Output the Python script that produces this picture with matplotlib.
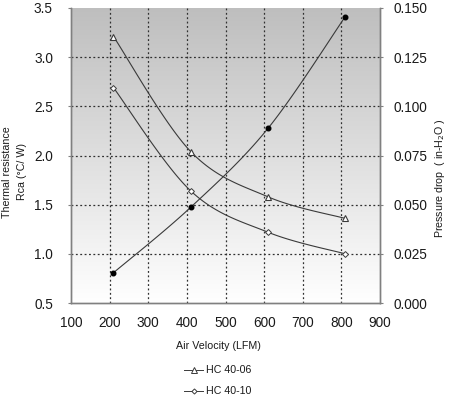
import matplotlib as mpl

mpl.use("Agg")

import matplotlib.pyplot as plt
import numpy as np

# data
AIR_VELOCITY = [210, 410, 610, 810]
HC_40_06 = [3.21, 2.04, 1.58, 1.36]
HC_40_10 = [2.69, 1.64, 1.22, 1.00]
PRESSURE_DROP = [0.0154, 0.0487, 0.0888, 0.1456]

X_TICKS = [100, 200, 300, 400, 500, 600, 700, 800, 900]
LEFT_TICKS = [0.5, 1.0, 1.5, 2.0, 2.5, 3.0, 3.5]
RIGHT_TICKS = [0.0, 0.025, 0.05, 0.075, 0.1, 0.125, 0.15]

LINE_COLOR = "#3a3a3a"
TEXT_COLOR = "#1a1a1a"
LABEL_SIZE = 7.7
TICK_SIZE = 9.8


def smooth_curve(x, y, xlim, ylim, n=40):
    # Excel-like smoothed line: cubic bezier with control points from neighbours
    x = (np.asarray(x, float) - xlim[0]) / (xlim[1] - xlim[0])
    y = (np.asarray(y, float) - ylim[0]) / (ylim[1] - ylim[0])
    pts = np.column_stack([x, y])
    ext = np.vstack([pts[0], pts, pts[-1]])
    t = np.linspace(0, 1, n)[:, None]
    out = []
    for i in range(len(pts) - 1):
        p0, p1, p2, p3 = ext[i], ext[i + 1], ext[i + 2], ext[i + 3]
        c1 = p1 + (p2 - p0) / 6.0
        c2 = p2 - (p3 - p1) / 6.0
        seg = (1 - t) ** 3 * p1 + 3 * (1 - t) ** 2 * t * c1 + 3 * (1 - t) * t**2 * c2 + t**3 * p2
        out.append(seg)
    curve = np.vstack(out)
    cx = curve[:, 0] * (xlim[1] - xlim[0]) + xlim[0]
    cy = curve[:, 1] * (ylim[1] - ylim[0]) + ylim[0]
    return cx, cy


plt.rcParams["font.family"] = ["Liberation Sans", "DejaVu Sans"]

fig = plt.figure(figsize=(4.54, 3.96), dpi=100)
ax = fig.add_axes([0.1564, 0.2348, 0.837 - 0.1564, 0.9798 - 0.2348])
ax2 = ax.twinx()

xlim = (100, 900)
ylim = (0.5, 3.5)
ylim2 = (0.0, 0.15)
ax.set_xlim(*xlim)
ax.set_ylim(*ylim)
ax2.set_ylim(*ylim2)

# gradient background: white at the bottom, grey at the top
grad = np.linspace(0.0, 1.0, 256)[:, None]
gray_map = mpl.colors.LinearSegmentedColormap.from_list("bg", ["#ffffff", "#bebebe"])
ax.imshow(grad, aspect="auto", cmap=gray_map, extent=[xlim[0], xlim[1], ylim[0], ylim[1]],
          origin="lower", zorder=0, vmin=0, vmax=1)

for xv in X_TICKS[1:-1]:
    ax.axvline(xv, color="#303030", lw=0.9, ls=(0, (1.5, 2)), zorder=1)
for yv in LEFT_TICKS[1:-1]:
    ax.axhline(yv, color="#303030", lw=0.9, ls=(0, (1.5, 2)), zorder=1)

cx, cy = smooth_curve(AIR_VELOCITY, HC_40_06, xlim, ylim)
ax.plot(cx, cy, color=LINE_COLOR, lw=0.8, zorder=3)
ax.plot(AIR_VELOCITY, HC_40_06, ls="none", marker="^", ms=5, mfc="white", mec=LINE_COLOR,
        mew=0.8, zorder=4)

cx, cy = smooth_curve(AIR_VELOCITY, HC_40_10, xlim, ylim)
ax.plot(cx, cy, color=LINE_COLOR, lw=0.8, zorder=3)
ax.plot(AIR_VELOCITY, HC_40_10, ls="none", marker="D", ms=3, mfc="white", mec=LINE_COLOR,
        mew=0.7, zorder=4)

cx, cy = smooth_curve(AIR_VELOCITY, PRESSURE_DROP, xlim, ylim2)
ax2.plot(cx, cy, color=LINE_COLOR, lw=0.8, zorder=3)
ax2.plot(AIR_VELOCITY, PRESSURE_DROP, ls="none", marker="o", ms=3.3, mfc="black", mec="black",
         zorder=4)

ax.set_xticks(X_TICKS)
ax.set_yticks(LEFT_TICKS)
ax.set_yticklabels([f"{v:.1f}" for v in LEFT_TICKS])
ax2.set_yticks(RIGHT_TICKS)
ax2.set_yticklabels([f"{v:.3f}" for v in RIGHT_TICKS])

for a in (ax, ax2):
    for side, spine in a.spines.items():
        spine.set_color("#808080")
        spine.set_linewidth(1.0)
    a.spines["top"].set_visible(False)

ax.tick_params(axis="x", length=0, labelsize=TICK_SIZE, pad=9, labelcolor=TEXT_COLOR)
ax.tick_params(axis="y", length=2, color="#808080", labelsize=TICK_SIZE, pad=11,
               labelcolor=TEXT_COLOR)
ax2.tick_params(axis="y", length=2, color="#808080", labelsize=TICK_SIZE, pad=8,
                labelcolor=TEXT_COLOR)

fig.text(7 / 454, 1 - 172 / 396, "Thermal resistance", rotation=90, ha="center", va="center",
         fontsize=LABEL_SIZE, color=TEXT_COLOR)
fig.text(22 / 454, 1 - 172 / 396, "Rca (°C/ W)", rotation=90, ha="center", va="center",
         fontsize=LABEL_SIZE, color=TEXT_COLOR)
fig.text(440 / 454, 1 - 178 / 396, "Pressure drop  ( in-H$_2$O )", rotation=90, ha="center",
         va="center", fontsize=LABEL_SIZE, color=TEXT_COLOR)
fig.text(218 / 454, 1 - 346 / 396, "Air Velocity (LFM)", ha="center", va="center",
         fontsize=LABEL_SIZE, color=TEXT_COLOR)

# legend drawn at figure level, below the x-axis title
for label, marker, ms, ypix in [("HC 40-06", "^", 4, 370), ("HC 40-10", "D", 2.6, 391)]:
    yf = 1 - ypix / 396
    fig.add_artist(mpl.lines.Line2D([184 / 454, 203 / 454], [yf, yf], color=LINE_COLOR, lw=0.7))
    fig.add_artist(mpl.lines.Line2D([193.5 / 454], [yf], ls="none", marker=marker, ms=ms,
                                    mfc="white", mec=LINE_COLOR, mew=0.7))
    fig.text(206 / 454, yf, label, ha="left", va="center", fontsize=LABEL_SIZE, color=TEXT_COLOR)

fig.savefig("out.png", dpi=100)
